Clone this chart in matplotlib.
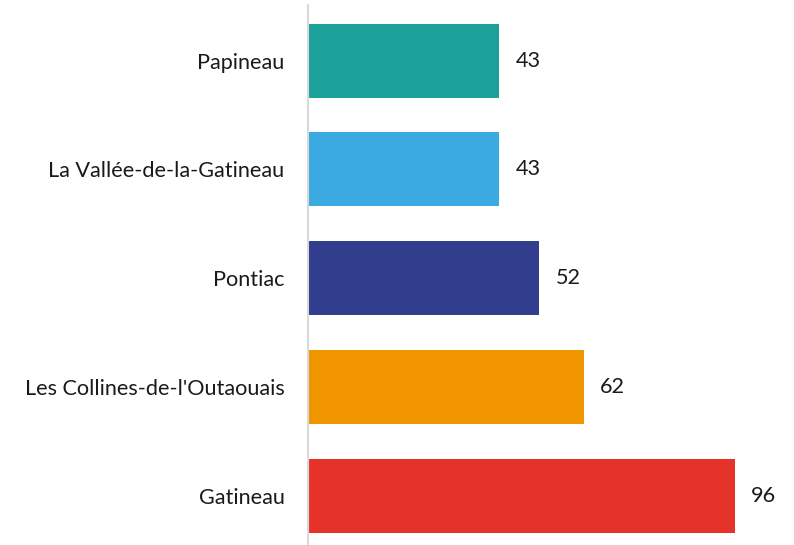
import matplotlib
matplotlib.use('Agg')
import matplotlib.pyplot as plt

# regions, bottom to top
regions = ['Gatineau', "Les Collines-de-l'Outaouais", 'Pontiac',
           'La Vallée-de-la-Gatineau', 'Papineau']
values = [96, 62, 52, 43, 43]
colors = ['#E5332A', '#F09400', '#323E8D', '#3AAAE0', '#1BA19A']

plt.rcParams['font.family'] = ['Lato', 'DejaVu Sans']

fig = plt.figure(figsize=(7.94, 5.45), dpi=100)
ax = fig.add_axes([308 / 794, 0, 1 - 308 / 794, 540 / 545])

pos = list(range(len(regions)))
ax.barh(pos, values, height=0.68, color=colors)

# value labels to the right of each bar
for y, v in zip(pos, values):
    ax.annotate(str(v), (v, y), xytext=(11.5, 0), textcoords='offset points',
                va='center', ha='left', fontsize=15.6, color='#1a1a1a')

ax.set_yticks(pos)
ax.set_yticklabels(regions, fontsize=15.6, color='#1a1a1a')
ax.tick_params(axis='y', length=0, pad=17)
ax.set_xticks([])
ax.set_xlim(0, 109.2)
ax.set_ylim(-0.45, 4.51)

for s in ['top', 'right', 'bottom']:
    ax.spines[s].set_visible(False)
ax.spines['left'].set_color('#d9d9d9')
ax.spines['left'].set_linewidth(1.5)

fig.savefig('out.png', dpi=100)
